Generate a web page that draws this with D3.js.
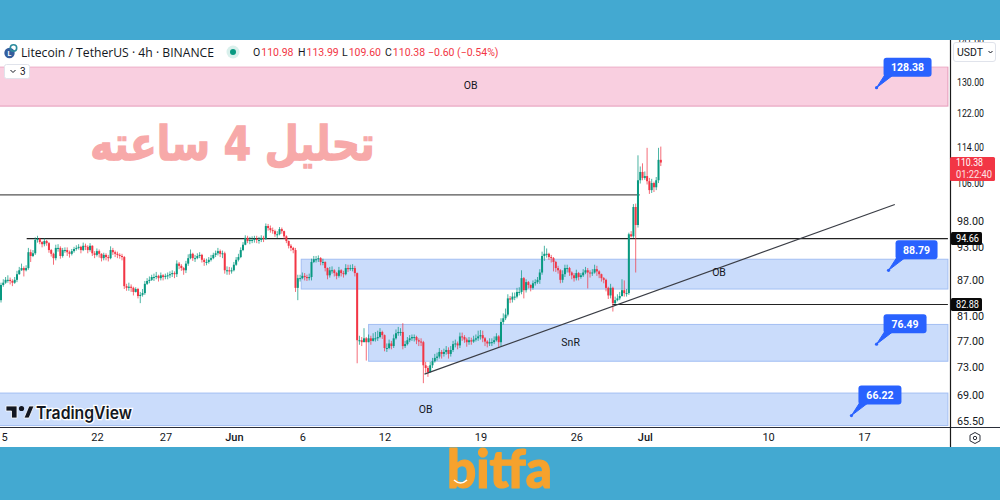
<!DOCTYPE html>
<html><head><meta charset="utf-8">
<script src="https://cdn.jsdelivr.net/npm/d3@7/dist/d3.min.js"></script>
<style>html,body{margin:0;padding:0;background:#fff;overflow:hidden}svg{display:block}</style>
</head><body><svg id="c" width="1000" height="500"></svg>
<script>
const firstOpen = 83.6;
const closes = [
86.2,86.6,87.1,87.1,86.9,86.6,87.1,88.1,88.8,89.2,88.8,89.2,
92.1,91.4,91.9,94.4,94.6,94.0,93.6,94.2,93.8,92.5,91.8,91.0,
92.9,92.9,91.4,92.5,92.5,92.1,91.8,92.3,92.7,92.9,93.1,92.5,
93.3,93.1,92.5,93.3,91.9,91.6,92.3,91.8,91.0,91.6,91.2,91.0,
92.5,92.1,91.8,91.6,91.4,91.2,86.0,85.7,85.9,85.7,85.0,85.5,
84.3,84.5,84.8,86.4,86.9,87.1,87.6,87.6,87.8,87.4,87.9,87.6,
87.8,87.9,88.1,88.3,88.1,90.0,89.6,89.2,88.8,90.0,91.0,91.8,
91.0,91.0,91.4,91.6,90.7,90.3,90.3,90.7,91.0,91.6,91.9,92.3,
91.8,91.9,88.8,88.8,88.6,88.8,89.8,90.7,91.2,92.5,93.5,94.8,
94.2,94.4,94.4,94.6,94.4,94.4,94.8,94.6,97.1,96.7,96.3,96.1,
95.5,95.5,96.5,96.1,95.1,94.2,93.3,92.9,92.5,85.7,87.4,87.4,
87.8,87.6,87.4,87.6,90.3,90.8,90.8,91.0,90.3,90.3,89.2,87.9,
88.8,88.8,88.3,87.8,88.8,88.3,88.1,89.2,89.0,89.2,89.2,88.3,
77.1,77.1,76.8,77.4,76.8,77.4,77.0,77.4,77.4,77.6,78.4,77.9,
75.9,75.9,76.6,76.2,77.4,78.2,78.4,78.4,76.2,76.5,77.1,77.4,
77.6,77.6,77.1,76.9,76.8,73.3,72.9,72.3,73.3,73.9,74.4,74.6,
75.3,75.0,75.3,75.6,75.0,75.6,76.5,76.6,76.3,77.7,77.6,77.2,
76.8,77.1,76.9,77.2,77.4,77.7,77.9,77.4,76.9,76.6,76.8,76.8,
77.1,77.7,76.8,80.0,80.6,81.2,83.9,83.7,84.2,84.2,85.0,85.0,
87.4,85.3,86.7,86.2,85.7,86.5,86.7,87.1,88.4,91.4,91.8,91.8,
91.2,91.0,90.3,89.2,88.8,87.1,88.1,89.2,89.2,88.4,87.9,87.4,
88.3,87.6,87.9,88.4,88.8,88.4,88.3,88.4,89.0,88.6,88.1,87.4,
87.1,85.7,84.4,85.7,83.1,83.6,83.9,84.3,85.3,84.8,84.8,95.5,
95.1,100.9,97.3,106.5,108.3,107.0,107.4,106.3,104.4,105.9,105.0,106.5,
110.98,110.38];
const highs = [
86.6,87.2,87.6,87.9,87.5,87.2,87.6,88.7,89.4,90.0,89.5,89.7,
92.9,92.6,92.5,94.9,95.2,94.8,94.2,94.7,94.4,94.0,92.7,92.0,
93.5,93.6,93.2,92.9,93.0,93.0,92.4,92.7,93.1,93.4,93.6,93.3,
93.9,93.7,93.4,93.8,93.4,92.3,92.8,92.6,91.9,92.0,91.9,91.6,
93.2,92.9,92.4,92.2,91.9,91.8,91.4,86.4,86.6,86.3,85.9,85.8,
85.7,85.0,85.5,86.9,87.4,87.7,88.0,88.2,88.5,88.0,88.4,88.1,
88.2,88.4,88.6,88.8,88.6,90.6,90.3,89.9,89.4,90.5,91.7,92.6,
92.0,91.6,91.9,92.1,91.8,91.0,90.9,91.2,91.6,92.0,92.4,92.9,
92.6,92.4,92.2,89.5,89.4,89.3,90.3,91.2,91.8,93.0,94.0,95.3,
95.2,95.0,95.1,95.2,95.2,95.0,95.3,95.2,97.6,97.5,97.2,96.8,
96.4,96.1,96.9,96.8,96.2,95.3,94.3,93.6,93.1,92.9,88.0,88.0,
88.4,88.3,88.0,88.2,90.9,91.4,91.4,91.5,91.2,90.9,90.4,89.3,
89.4,89.5,89.0,88.5,89.4,89.0,88.7,89.9,89.8,89.8,89.9,89.6,
88.4,77.8,77.6,79.0,77.6,78.0,77.8,78.2,78.4,78.6,79.0,78.6,
78.0,76.6,77.2,77.0,78.0,78.8,79.2,79.0,79.8,77.0,77.6,77.9,
78.0,78.0,77.8,77.4,77.4,77.0,73.8,73.2,73.8,74.4,75.0,75.2,
75.9,75.6,75.8,76.2,76.0,76.2,77.0,77.2,76.9,78.3,78.3,77.9,
77.5,77.6,77.5,77.8,78.0,78.6,78.7,78.6,77.6,77.1,77.4,77.4,
77.7,78.2,77.9,80.6,81.4,82.2,84.6,84.3,84.9,84.9,85.7,85.8,
88.8,87.6,87.2,86.9,86.3,87.0,87.2,87.6,89.0,92.2,93.3,92.8,
92.0,91.6,91.2,90.5,89.6,89.0,88.8,89.8,89.8,89.4,88.6,88.3,
88.9,88.5,88.3,89.0,89.4,89.2,88.8,89.0,89.8,89.6,88.8,88.2,
87.6,87.3,85.9,86.4,85.9,84.2,84.6,85.0,87.2,87.0,85.5,95.8,
96.1,101.5,101.6,112.0,109.5,110.2,108.4,113.7,107.0,106.8,106.2,107.2,
113.7,113.99];
const lows = [
83.2,85.9,86.4,86.6,86.3,86.0,86.4,86.7,88.0,88.7,87.7,88.6,
88.9,90.3,91.2,91.6,93.9,93.6,93.0,93.2,93.3,92.0,91.3,89.8,
90.6,92.2,90.9,91.1,92.0,91.4,91.1,91.5,92.0,92.4,92.6,91.9,
92.3,92.5,91.9,92.2,91.4,91.0,91.3,91.1,90.4,90.6,90.6,90.4,
90.8,91.6,91.2,91.0,90.9,90.6,85.5,85.2,85.2,85.0,84.4,84.9,
83.9,83.1,84.2,84.5,86.2,86.5,86.9,86.9,87.2,86.8,87.0,87.0,
87.2,87.2,87.4,87.6,87.4,87.6,89.0,88.7,88.0,88.3,89.6,90.8,
90.5,90.3,90.8,91.0,90.2,89.6,89.7,90.0,90.4,90.8,91.2,91.5,
91.2,91.0,88.2,88.0,88.0,88.2,88.6,89.6,90.4,91.0,92.3,93.4,
93.8,93.6,93.8,93.9,93.8,93.7,94.0,94.0,94.4,96.2,95.8,95.6,
95.0,94.8,95.3,95.6,94.6,93.8,92.8,92.3,91.9,85.0,83.6,86.8,
87.2,87.0,86.9,87.0,87.0,90.1,90.2,90.3,89.7,89.7,88.6,87.2,
87.5,88.2,87.7,87.2,87.5,87.7,87.5,87.9,88.5,88.7,88.6,87.7,
73.6,76.4,76.2,76.8,74.0,76.8,76.4,76.9,76.9,77.0,77.4,77.3,
75.4,75.3,75.7,75.7,75.9,77.2,77.8,77.8,75.7,75.9,76.3,76.8,
77.0,76.9,76.5,76.2,76.2,70.7,72.2,71.6,72.2,72.9,73.7,74.0,
74.3,74.3,74.6,74.9,74.3,74.6,75.3,76.0,75.7,75.9,77.0,76.7,
76.1,76.4,76.4,76.7,76.9,77.0,77.2,76.8,76.2,76.0,76.2,76.2,
76.5,76.9,75.9,76.2,79.6,80.3,80.9,83.1,83.2,83.6,83.9,84.4,
84.6,83.9,84.9,85.6,85.1,85.4,86.1,86.4,86.4,88.0,90.5,91.1,
90.7,90.2,88.6,88.5,88.2,86.5,86.6,87.6,88.4,87.8,87.2,86.8,
87.0,87.0,87.3,87.6,88.1,85.6,87.5,87.8,88.2,87.8,87.4,86.8,
86.5,85.1,83.8,83.9,81.7,82.9,83.4,83.6,84.2,84.2,84.2,84.5,
94.9,94.8,88.4,96.8,105.8,106.5,106.6,105.6,103.6,103.8,104.0,104.4,
105.9,109.6];

const priceTicks = [141,130,122,114,106,98,93,87,81,77,73,69,65.5];
const dateTicks = ["2023-05-15","2023-05-22","2023-05-27","2023-06-01","2023-06-06","2023-06-12","2023-06-19","2023-06-26","2023-07-01","2023-07-10","2023-07-17"];
const dateLabels = ["15","22","27","Jun","6","12","19","26","Jul","10","17"];
const zoneTop = [133.9, 90.8, 79.6, 69.3];
const zoneBottom = [123.7, 85.5, 73.9, 64.9];
const zoneStart = ["2023-05-01T00:00Z","2023-06-05T22:00Z","2023-06-10T20:00Z","2023-05-01T00:00Z"];
const zoneKind = ["pink","blue","blue","blue"];
const levelPrice = [103.4, 94.66, 82.88];
const levelStart = ["2023-05-01T00:00Z","2023-05-16T21:00Z","2023-06-28T15:00Z"];
const levelEnd = ["2023-06-30T15:00Z","2023-07-23T03:00Z","2023-07-23T03:00Z"];
const callValues = [128.38, 88.79, 76.49, 66.22];
const callDates = ["2023-07-17T22:00Z","2023-07-18T19:00Z","2023-07-17T22:00Z","2023-07-16T02:00Z"];
const noteText = ["OB","OB","SnR","OB"];
const noteDates = ["2023-06-18T07:00Z","2023-07-06T10:00Z","2023-06-25T14:00Z","2023-06-15T00:00Z"];
const notePrices = [128.7, 88.2, 76.7, 67.0];
const trendDates = ["2023-06-14T22:00Z","2023-07-19T06:00Z"];
const trendPrices = [72.0, 101.4];
const ohlcLabels = ["O","H","L","C"];
const ohlcValues = ["110.98","113.99","109.60","110.38"];

const GREEN="#089981", RED="#f23645", INK="#131722", BLUE="#2962ff", SKY="#43a9d1";
const AX="Roboto, 'Open Sans', sans-serif";
const svg=d3.select("#c");
const x=d3.scaleUtc().domain([new Date("2023-05-15T00:00Z"),new Date("2023-07-17T00:00Z")]).range([1,864]);
const y=d3.scaleLog().domain([130,65.5]).range([81.5,421]);
const t0=+new Date("2023-05-15T00:00Z");
const candles=closes.map((c,i)=>({t:new Date(t0+i*4*3600e3),o:i?closes[i-1]:firstOpen,c,h:highs[i],l:lows[i]}));

svg.append("rect").attr("width",1000).attr("height",500).attr("fill","#fff");
const defs=svg.append("defs");
defs.append("clipPath").attr("id","plot").append("rect").attr("x",0).attr("y",40).attr("width",950).attr("height",387);
defs.append("clipPath").attr("id","axisR").append("rect").attr("x",951).attr("y",40).attr("width",49).attr("height",387);

const plot=svg.append("g").attr("clip-path","url(#plot)");
plot.selectAll("rect.zone").data(zoneTop).join("rect").attr("class","zone")
 .attr("x",(d,i)=>x(new Date(zoneStart[i])))
 .attr("y",d=>y(d))
 .attr("width",(d,i)=>x(new Date("2023-07-23T03:00Z"))-x(new Date(zoneStart[i])))
 .attr("height",(d,i)=>y(zoneBottom[i])-y(d))
 .attr("fill",(d,i)=>zoneKind[i]=="pink"?"#f9cfe0":"#cadcfb")
 .attr("stroke",(d,i)=>zoneKind[i]=="pink"?"#e59bb9":"#a3bff3").attr("stroke-width",1);

plot.selectAll("line.level").data(levelPrice).join("line").attr("class","level")
 .attr("x1",(d,i)=>x(new Date(levelStart[i]))).attr("x2",(d,i)=>x(new Date(levelEnd[i])))
 .attr("y1",d=>y(d)).attr("y2",d=>y(d))
 .attr("stroke",(d,i)=>i==0?"#555":"#222").attr("stroke-width",(d,i)=>i==0?1.4:1.1);

const cg=plot.append("g");
cg.selectAll("line").data(candles).join("line")
 .attr("x1",d=>x(d.t)).attr("x2",d=>x(d.t)).attr("y1",d=>y(d.h)).attr("y2",d=>y(d.l))
 .attr("stroke",d=>d.c>=d.o?GREEN:RED).attr("stroke-width",0.9).attr("opacity",.8);
cg.selectAll("rect").data(candles).join("rect")
 .attr("x",d=>x(d.t)-1).attr("width",2)
 .attr("y",d=>y(Math.max(d.o,d.c))).attr("height",d=>Math.max(1,Math.abs(y(d.o)-y(d.c))))
 .attr("fill",d=>d.c>=d.o?GREEN:RED);

plot.append("line")
 .attr("x1",x(new Date(trendDates[0]))).attr("y1",y(trendPrices[0]))
 .attr("x2",x(new Date(trendDates[1]))).attr("y2",y(trendPrices[1]))
 .attr("stroke","#3a3d45").attr("stroke-width",1.2);

plot.selectAll("text.note").data(noteText).join("text").attr("class","note")
 .attr("x",(d,i)=>x(new Date(noteDates[i]))).attr("y",(d,i)=>y(notePrices[i]))
 .attr("text-anchor","middle").attr("dominant-baseline","middle")
 .attr("font-family",AX).attr("font-size",10.5).attr("fill",INK).text(d=>d);

// Persian caption
svg.append("text").attr("transform","translate(232.5,160) scale(0.835,1)").attr("text-anchor","middle").attr("direction","rtl")
 .attr("font-family","'DejaVu Sans'").attr("font-weight",700).attr("font-size",47).attr("fill","#f7a9a9")
 .attr("stroke","#f7a9a9").attr("stroke-width",1.4)
 .text("تحلیل 4 ساعته");

// TradingView mark
const tv=svg.append("g");
tv.append("path").attr("d","M6,406 H17 V418 H11.5 V411 H6 Z M24,418 L29,406 H34 L29,418 Z").attr("fill",INK).attr("stroke","#fff").attr("stroke-width",.8);
tv.append("circle").attr("cx",21.5).attr("cy",408.5).attr("r",2.6).attr("fill",INK);
tv.append("text").attr("x",36).attr("y",419).attr("font-family","Inter, Roboto, sans-serif").attr("font-weight",600)
 .attr("font-size",17).attr("fill",INK).attr("stroke","#fff").attr("stroke-width",2.5).attr("paint-order","stroke")
 .attr("textLength",96).attr("lengthAdjust","spacingAndGlyphs").text("TradingView");

// Header
svg.append("rect").attr("x",0).attr("y",40).attr("width",950).attr("height",26.5).attr("fill","#fff");
svg.append("circle").attr("cx",9.5).attr("cy",53).attr("r",5.2).attr("fill","#345d9d");
svg.append("circle").attr("cx",13.5).attr("cy",48).attr("r",3.2).attr("fill","none").attr("stroke","#2b8a9c").attr("stroke-width",1.6);
svg.append("text").attr("x",9.5).attr("y",55.5).attr("text-anchor","middle").attr("font-size",7).attr("font-weight",700).attr("font-family",AX).attr("fill","#fff").text("L");
svg.append("text").attr("x",21).attr("y",56.5).attr("font-family","'Open Sans',Roboto,sans-serif").attr("font-size",13)
 .attr("fill",INK).attr("textLength",193).attr("lengthAdjust","spacingAndGlyphs").text("Litecoin / TetherUS · 4h · BINANCE");
svg.append("circle").attr("cx",233).attr("cy",52).attr("r",6.5).attr("fill","#d9f0ec");
svg.append("circle").attr("cx",233).attr("cy",52).attr("r",3).attr("fill",GREEN);
const ohlcX=[253,298,342,385];
ohlcLabels.forEach((l,i)=>{
 const t=svg.append("text").attr("x",ohlcX[i]).attr("y",56).attr("font-family",AX).attr("font-size",10.5);
 t.append("tspan").attr("fill",INK).text(l);
 t.append("tspan").attr("dx",1).attr("fill",RED).text(ohlcValues[i]);
});
svg.append("text").attr("x",428).attr("y",56).attr("font-family",AX).attr("font-size",10.5).attr("fill",RED).text("−0.60 (−0.54%)");

// Collapse button
svg.append("rect").attr("x",4.5).attr("y",64.5).attr("width",25).attr("height",14).attr("rx",2).attr("fill","#fff").attr("stroke","#e0e3eb");
svg.append("path").attr("d","M10.5,70 L13,72.5 L15.5,70").attr("fill","none").attr("stroke",INK).attr("stroke-width",1);
svg.append("text").attr("x",20).attr("y",75).attr("font-family",AX).attr("font-size",10).attr("fill",INK).text("3");

// Callouts
const callG=svg.append("g").attr("clip-path","url(#plot)");
callValues.forEach((v,i)=>{
 const ax=x(new Date(callDates[i])), ay=y(v), w=i==0?48:(i==1?42:43);
 const g=callG.append("g").attr("transform",`translate(${ax},${ay})`);
 g.append("path").attr("d","M0,0 L9,-14 L17,-13 Z").attr("fill",BLUE).attr("stroke",BLUE).attr("stroke-width",1);
 g.append("circle").attr("r",1.6).attr("fill",BLUE);
 g.append("rect").attr("x",7).attr("y",-30).attr("width",w).attr("height",19).attr("rx",3).attr("fill",BLUE);
 g.append("text").attr("x",7+w/2).attr("y",-16.5).attr("text-anchor","middle").attr("font-family",AX)
  .attr("font-size",10.5).attr("font-weight",700).attr("fill","#fff").text(v.toFixed(2));
});

// Right axis
const rg=svg.append("g").attr("clip-path","url(#axisR)");
const yAxis=d3.axisRight(y).tickValues(priceTicks).tickFormat(d3.format(".2f")).tickSize(0).tickPadding(0);
const ya=rg.append("g").attr("transform","translate(957,0)").call(yAxis);
ya.select(".domain").remove();
ya.selectAll("text").attr("font-family",AX).attr("font-size",11).attr("fill",INK).attr("textLength",27).attr("lengthAdjust","spacingAndGlyphs");

// Bottom axis
const xAxis=d3.axisBottom(x).tickValues(dateTicks.map(d=>new Date(d+"T00:00Z"))).tickFormat((d,i)=>dateLabels[i]).tickSize(0).tickPadding(0);
const xa=svg.append("g").attr("transform","translate(0,433)").call(xAxis);
xa.select(".domain").remove();
xa.selectAll("text").attr("font-family",AX).attr("font-size",11).attr("fill",INK).attr("font-weight",(d,i)=>dateLabels[i]=="Jun"||dateLabels[i]=="Jul"?500:400);

// Frame
svg.append("line").attr("x1",0).attr("x2",1000).attr("y1",427.5).attr("y2",427.5).attr("stroke","#2a2e39").attr("stroke-width",1.2);
svg.append("line").attr("x1",950.5).attr("x2",950.5).attr("y1",40).attr("y2",447).attr("stroke","#1a1a1a").attr("stroke-width",1.2);

// USDT button
svg.append("rect").attr("x",953.5).attr("y",42.5).attr("width",42).attr("height",19).attr("rx",2.5).attr("fill","#fff").attr("stroke","#e0e3eb");
svg.append("text").attr("x",957).attr("y",56).attr("font-family",AX).attr("font-size",10.5).attr("fill",INK).text("USDT");
svg.append("path").attr("d","M988.5,51 L990.5,53 L992.5,51").attr("fill","none").attr("stroke",INK).attr("stroke-width",1);

// Level price tags
[levelPrice[1],levelPrice[2]].forEach(v=>{
 svg.append("rect").attr("x",951).attr("y",y(v)-6.5).attr("width",31).attr("height",13).attr("rx",1.5).attr("fill","#0a0a0a");
 svg.append("text").attr("x",956).attr("y",y(v)+3.8).attr("font-family",AX).attr("font-size",11).attr("fill","#fff")
  .attr("textLength",23).attr("lengthAdjust","spacingAndGlyphs").text(v.toFixed(2));
});

// Last price tag
const last=closes[closes.length-1];
svg.append("rect").attr("x",950).attr("y",y(last)-5.5).attr("width",45).attr("height",24).attr("rx",1.5).attr("fill",RED);
svg.append("text").attr("x",956).attr("y",y(last)+3.5).attr("font-family",AX).attr("font-size",11).attr("fill","#fff")
 .attr("textLength",27).attr("lengthAdjust","spacingAndGlyphs").text(last.toFixed(2));
svg.append("text").attr("x",956).attr("y",y(last)+15).attr("font-family",AX).attr("font-size",10.5).attr("fill","#fde3e5")
 .attr("textLength",36).attr("lengthAdjust","spacingAndGlyphs").text("01:22:40");

// Settings icon
svg.append("path").attr("d","M975,432.5 L980,435.2 L980,440.8 L975,443.5 L970,440.8 L970,435.2 Z").attr("fill","none").attr("stroke",INK).attr("stroke-width",.9);
svg.append("circle").attr("cx",975).attr("cy",438).attr("r",1.7).attr("fill","none").attr("stroke",INK).attr("stroke-width",.9);

// Page bands
svg.append("rect").attr("x",0).attr("y",0).attr("width",1000).attr("height",40).attr("fill",SKY);
svg.append("rect").attr("x",0).attr("y",447).attr("width",1000).attr("height",53).attr("fill",SKY);

// bitfa logo
defs.append("clipPath").attr("id","logo").append("rect").attr("x",440).attr("y",447).attr("width",130).attr("height",53);
const logoG=svg.append("g").attr("clip-path","url(#logo)");
logoG.append("text").attr("x",447).attr("y",488).attr("font-family","Lato, 'Open Sans', sans-serif").attr("font-weight",900)
 .attr("font-size",54).attr("fill","#f6a22d").attr("stroke","#f6a22d").attr("stroke-width",1.2).attr("stroke-linejoin","round")
 .attr("textLength",105).attr("lengthAdjust","spacingAndGlyphs").text("bitfa");
svg.append("path").attr("d","M454,480 Q460.5,486 467,480").attr("fill","none").attr("stroke","#fff").attr("stroke-width",1.5);
</script></body></html>
